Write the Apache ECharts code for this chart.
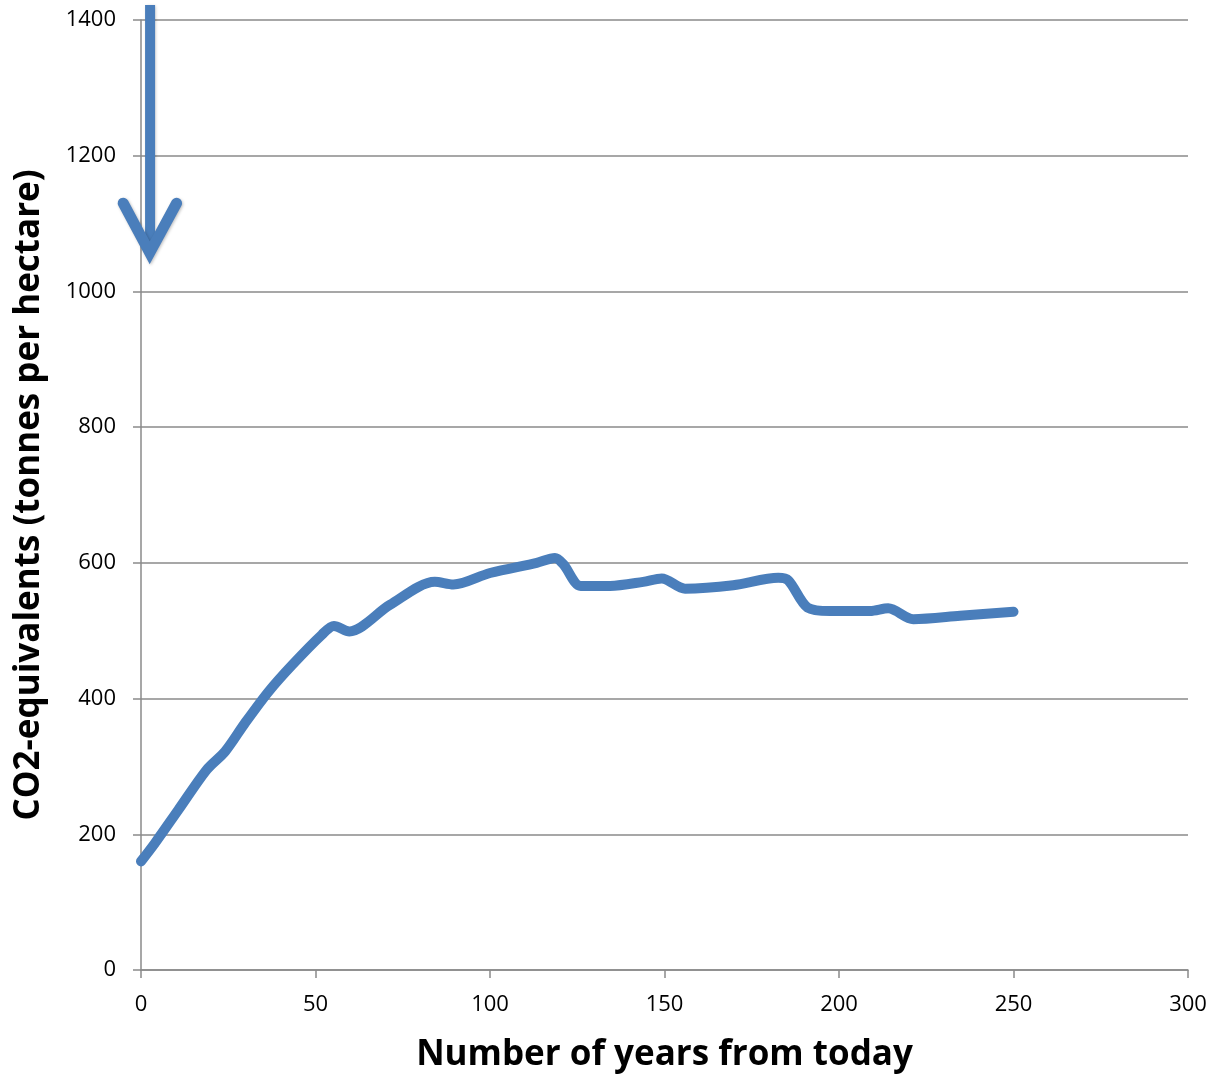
<!DOCTYPE html>
<html><head><meta charset="utf-8">
<script src="https://cdn.jsdelivr.net/npm/echarts@6/dist/echarts.min.js"></script>
<style>html,body{margin:0;padding:0;background:#fff}#c{width:1212px;height:1080px}</style>
</head><body><div id="c"></div>
<script>
const years = [0, 4, 10.7, 18.8, 24.1, 29.8, 36.5, 43.2, 51.8, 55.3, 59.7, 71.3, 84.2, 89.5, 100, 113.4, 118.6, 121, 126, 134.4, 143.9, 149.2, 155.9, 169.7, 182.6, 185.5, 191, 197.4, 208.9, 214.1, 221.3, 234.7, 250];
const co2 = [160, 187, 236, 295, 322, 364, 410, 449, 494, 507, 499, 538, 572, 568, 585, 600, 607, 598, 566, 566, 572, 577, 562, 567, 578, 574, 534, 529, 529, 533, 517, 522, 528];
const xTicks = [0, 50, 100, 150, 200, 250, 300];
const yTicks = [0, 200, 400, 600, 800, 1000, 1200, 1400];
const arrowShaft = [[2.6, 1422], [2.6, 1064]];
const arrowHead = [[-5.1, 1130], [2.5, 1057], [10.2, 1130]];
const xTitle = 'Number of years from today';
const yTitle = 'CO2-equivalents (tonnes per hectare)';

const gray = '#8a8a8a';
const blue = '#4a7ebb';
const font = '"Open Sans", "Noto Sans", sans-serif';
const chart = echarts.init(document.getElementById('c'));
chart.setOption({
  animation: false,
  grid: { left: 141, right: 24, top: 20, bottom: 110, containLabel: false, outerBoundsMode: 'none' },
  xAxis: {
    type: 'value', min: 0, max: 300, interval: 50,
    name: xTitle, nameLocation: 'middle', nameGap: 68,
    nameTextStyle: { fontFamily: font, fontWeight: 'bold', fontSize: 35, color: '#000' },
    axisLine: { show: true, lineStyle: { color: gray, width: 1.5 } },
    axisTick: { show: true, length: 8, lineStyle: { color: gray, width: 1.5 } },
    axisLabel: { margin: 24, fontFamily: font, fontSize: 22, color: '#000',
      formatter: v => xTicks.includes(v) ? String(v) : '' },
    splitLine: { show: false }
  },
  yAxis: {
    type: 'value', min: 0, max: 1400, interval: 200,
    name: yTitle, nameLocation: 'middle', nameGap: 94, nameRotate: 90,
    nameTextStyle: { fontFamily: font, fontWeight: 'bold', fontSize: 35, color: '#000' },
    axisLine: { show: true, lineStyle: { color: gray, width: 1.5 } },
    axisTick: { show: true, length: 8, lineStyle: { color: gray, width: 1.5 } },
    axisLabel: { margin: 25, fontFamily: font, fontSize: 22, color: '#000',
      formatter: v => yTicks.includes(v) ? String(v) : '' },
    splitLine: { show: true, lineStyle: { color: gray, width: 1.5 } }
  },
  series: [
    {
      type: 'line', data: years.map((x, i) => [x, co2[i]]),
      smooth: 0.3, symbol: 'none', silent: true,
      lineStyle: { color: blue, width: 10, cap: 'round', join: 'round' }
    },
    {
      type: 'custom', silent: true, clip: false,
      data: [[0, 0]],
      renderItem: function (params, api) {
        const shadow = { shadowColor: 'rgba(0,0,0,0.25)', shadowBlur: 3, shadowOffsetX: 1, shadowOffsetY: 1 };
        return {
          type: 'group',
          children: [
            { type: 'polyline', shape: { points: arrowShaft.map(p => api.coord(p)) },
              style: Object.assign({ fill: null, stroke: blue, lineWidth: 10, lineCap: 'butt' }, shadow) },
            { type: 'polyline', shape: { points: arrowHead.map(p => api.coord(p)) },
              style: Object.assign({ fill: null, stroke: blue, lineWidth: 11, lineCap: 'round', lineJoin: 'miter' }, shadow) }
          ]
        };
      }
    }
  ]
});
</script></body></html>
